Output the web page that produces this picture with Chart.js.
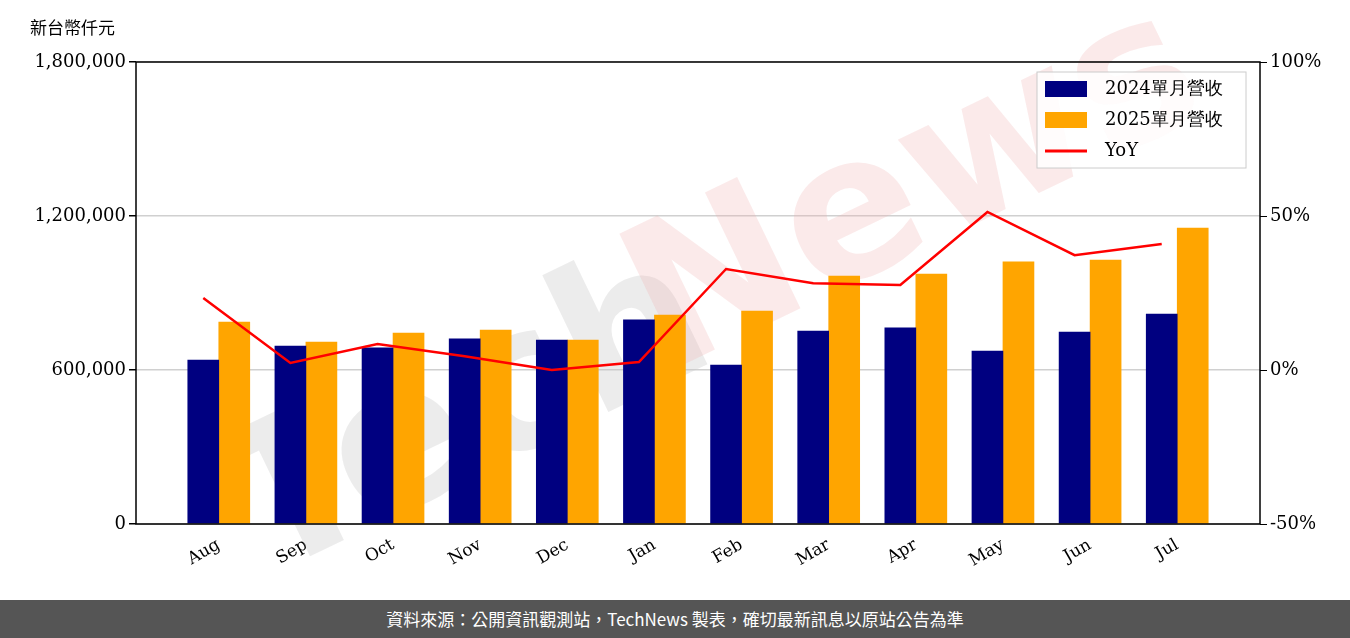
<!DOCTYPE html>
<html><head><meta charset="utf-8">
<script src="https://cdn.jsdelivr.net/npm/chart.js@4"></script>
<style>
body{margin:0;background:#fff;width:1350px;height:638px;overflow:hidden;position:relative}
#wrap{position:absolute;left:0;top:0;width:1350px;height:600px}
#foot{position:absolute;left:0;top:600px;width:1350px;height:38px;background:#555;color:#fff;font:17px "Noto Sans CJK TC";text-align:center;line-height:38px}
#unit{position:absolute;left:30px;top:14px;font:17px "Noto Sans CJK TC";color:#000}
</style></head><body>
<div id="wrap"><canvas id="c"></canvas></div>
<div id="unit">新台幣仟元</div>
<div id="foot">資料來源：公開資訊觀測站，TechNews 製表，確切最新訊息以原站公告為準</div>
<script>
const months = ["Aug","Sep","Oct","Nov","Dec","Jan","Feb","Mar","Apr","May","Jun","Jul"];
const rev2024 = [639000,693000,686000,721000,717000,795000,619000,752000,764000,674000,748000,818000];
const rev2025 = [787000,709000,744000,756000,717000,814000,830000,966000,974000,1021000,1028000,1153000];
const yoy = [23.4,2.3,8.4,4.5,0.0,2.6,32.8,28.2,27.6,51.3,37.3,40.9];
const serif = "'DejaVu Serif'";
const pts = (arr, dx = 0) => arr.map((v, i) => ({ x: i + dx, y: v }));

const deco = {
  id: "deco",
  beforeDatasetsDraw(chart) {
    const c = chart.ctx, a = chart.chartArea;
    c.save();
    c.translate(a.left + 560, a.top + 250);
    c.rotate(-0.45);
    c.font = "bold 200px 'DejaVu Sans'";
    c.textAlign = "center"; c.textBaseline = "middle";
    c.fillStyle = "rgba(200,200,200,0.35)";
    c.fillText("Tech", -250, 0);
    c.fillStyle = "rgba(240,170,170,0.25)";
    c.fillText("News", 250, -10);
    c.restore();
  },
  afterDraw(chart) {
    const c = chart.ctx, a = chart.chartArea;
    c.save();
    c.strokeStyle = "#000"; c.lineWidth = 1.5;
    c.strokeRect(a.left, a.top, a.right - a.left, a.bottom - a.top);
    const x = a.right - 223, y = a.top + 10, w = 209, h = 96;
    c.fillStyle = "rgba(255,255,255,0.85)"; c.strokeStyle = "#ccc"; c.lineWidth = 1;
    c.fillRect(x, y, w, h); c.strokeRect(x, y, w, h);
    c.font = "18px " + serif; c.textBaseline = "middle";
    [1, 2, 0].forEach((i, k) => {
      const d = chart.data.datasets[i], yy = y + 17 + k * 31;
      if (d.type === "line") {
        c.strokeStyle = d.borderColor; c.lineWidth = 3;
        c.beginPath(); c.moveTo(x + 8, yy); c.lineTo(x + 50, yy); c.stroke();
      } else {
        c.fillStyle = d.backgroundColor; c.fillRect(x + 8, yy - 8, 42, 16);
      }
      c.fillStyle = "#000"; c.fillText(d.label, x + 68, yy);
    });
    c.restore();
  }
};

new Chart(document.getElementById("c"), {
  data: {
    datasets: [
      { type: "line", label: "YoY", data: pts(yoy, -0.178), yAxisID: "y1", borderColor: "#ff0000", borderWidth: 2.5, pointRadius: 0, tension: 0 },
      { type: "bar", label: "2024單月營收", data: pts(rev2024), backgroundColor: "#000080", yAxisID: "y", barThickness: 31 },
      { type: "bar", label: "2025單月營收", data: pts(rev2025), backgroundColor: "#ffa500", yAxisID: "y", barThickness: 31 }
    ]
  },
  options: {
    responsive: true, maintainAspectRatio: false, animation: false,
    layout: { padding: { top: 62, right: 0, left: 0, bottom: 0 } },
    plugins: { legend: { display: false }, tooltip: { enabled: false } },
    scales: {
      x: {
        type: "linear", min: -0.95, max: 11.95, offset: false,
        grid: { display: false },
        ticks: { stepSize: 1, autoSkip: false, color: "#000", font: { family: serif, size: 17 }, maxRotation: 30, minRotation: 30,
                 callback: v => Number.isInteger(v) ? months[v] : "" },
        afterBuildTicks(s) { s.ticks = months.map((m, i) => ({ value: i })); },
        afterFit(s) { s.height = 76; }
      },
      y: {
        min: 0, max: 1800000,
        ticks: { stepSize: 600000, color: "#000", font: { family: serif, size: 18 }, callback: v => v.toLocaleString("en-US") },
        grid: { color: "#d0d0d0", lineWidth: 1.5, tickLength: 7, tickColor: "#000" },
        border: { display: false },
        afterFit(s) { s.width = 136; }
      },
      y1: {
        position: "right", min: -50, max: 100,
        ticks: { stepSize: 50, color: "#000", font: { family: serif, size: 18 }, callback: v => v + "%" },
        grid: { drawOnChartArea: false, tickLength: 7, tickColor: "#000" },
        border: { display: false },
        afterFit(s) { s.width = 90; }
      }
    }
  },
  plugins: [deco]
});
</script>
</body></html>
